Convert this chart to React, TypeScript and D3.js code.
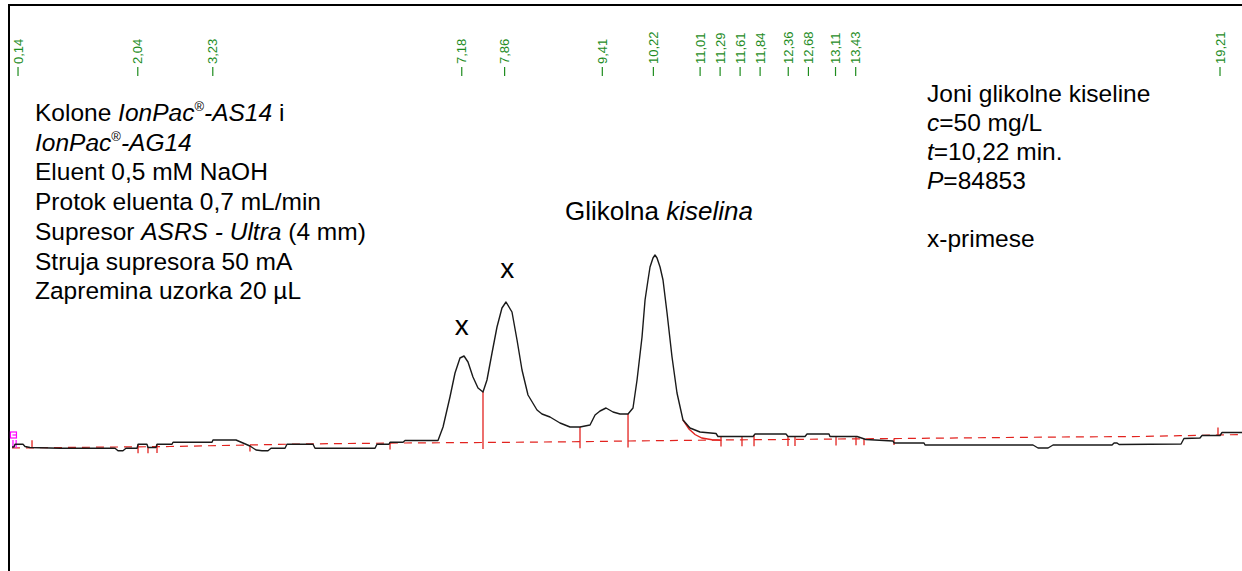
import React from "react";
import * as d3 from "d3";

// retention times printed above the peaks (min)
const peakLabels = [0.14, 2.04, 3.23, 7.18, 7.86, 9.41, 10.22, 11.01, 11.29, 11.61, 11.84, 12.36, 12.68, 13.11, 13.43, 19.21];

// detector trace
const traceTime = [
  0.044, 0.076, 0.092, 0.219, 0.251, 0.33, 0.806, 1.679, 1.726, 1.805, 1.853, 2.028, 2.044, 2.186, 2.202, 2.329,
  2.345, 2.583, 2.599, 3.218, 3.233, 3.598, 3.709, 3.82, 3.916, 4.011, 4.106, 4.154, 4.376, 4.407, 4.82, 4.852,
  5.804, 5.835, 6.026, 6.042, 6.248, 6.28, 6.803, 6.883, 6.993, 7.073, 7.152, 7.216, 7.279, 7.358, 7.438, 7.517,
  7.58, 7.66, 7.739, 7.818, 7.882, 7.977, 8.057, 8.136, 8.231, 8.374, 8.453, 8.58, 8.739, 8.898, 9.056, 9.215,
  9.295, 9.374, 9.469, 9.58, 9.691, 9.818, 9.897, 9.961, 10.04, 10.088, 10.135, 10.167, 10.214, 10.246, 10.278,
  10.326, 10.373, 10.437, 10.516, 10.595, 10.69, 10.801, 10.96, 11.214, 11.245, 11.801, 11.833, 12.324, 12.356,
  12.626, 12.658, 13.007, 13.022, 13.451, 13.593, 14.022, 14.038, 14.514, 14.53, 16.243, 16.323, 16.482, 16.561,
  17.497, 17.529, 17.577, 17.608, 18.592, 18.638, 18.892, 18.924, 19.21, 19.242, 19.559,
];
const traceSignal = [
  0.3, 0.3, 0.57, 0.57, 0.35, 0.25, 0.17, 0.17, -0.07, -0.07, 0.17, 0.17, 0.57, 0.57, 0.25, 0.25,
  0.57, 0.57, 0.77, 0.77, 1.0, 1.0, 0.7, 0.4, 0.0, -0.07, -0.07, 0.17, 0.17, 0.57, 0.57, 0.17,
  0.17, 0.57, 0.57, 0.77, 0.77, 0.95, 0.95, 2.3, 5.3, 7.7, 9.2, 9.4, 8.8, 7.3, 6.2, 5.8,
  7.0, 9.7, 12.3, 14.2, 14.8, 13.8, 11.0, 8.0, 5.5, 4.0, 3.6, 3.3, 2.7, 2.3, 2.3, 2.5,
  3.5, 3.9, 4.2, 3.8, 3.6, 3.6, 4.2, 7.0, 11.3, 15.0, 17.0, 18.3, 19.2, 19.5, 19.2,
  18.3, 17.0, 13.7, 9.3, 5.7, 3.0, 2.2, 1.8, 1.65, 1.35, 1.35, 1.6, 1.6, 1.35,
  1.35, 1.6, 1.6, 1.35, 1.35, 1.05, 0.9, 0.7, 0.7, 0.5, 0.5, 0.2, 0.2, 0.5,
  0.5, 0.7, 0.7, 0.55, 0.6, 1.15, 1.2, 1.45, 1.45, 1.75, 1.75,
];

// integration baseline (dashed)
const baseTime = [0.044, 2.551, 4.614, 6.2, 7.517, 9.056, 9.818, 11.277, 14.133, 16.672, 17.941, 18.575, 19.559];
const baseSignal = [0.2, 0.35, 0.6, 0.7, 0.75, 0.83, 0.9, 1.0, 1.15, 1.3, 1.35, 1.43, 1.55];

// tangent skim under the glycolic acid tail
const skimTime = [10.69, 10.785, 10.88, 10.99, 11.15, 11.3];
const skimSignal = [3.0, 2.1, 1.55, 1.2, 1.02, 0.98];

// peak boundary drop lines, and the two upward event marks
const dropTimes = [2.044, 2.202, 2.345, 3.82, 6.042, 7.517, 9.056, 9.818, 11.293, 11.626, 11.817, 12.356, 12.467, 13.118, 13.435, 13.562, 14.038];
const markTimes = [0.362, 19.178];

const leftNotes = [
  "Eluent 0,5 mM NaOH",
  "Protok eluenta 0,7 mL/min",
  "",
  "Struja supresora 50 mA",
  "Zapremina uzorka 20 µL",
];

const W = 1242;
const H = 571;
const FONT = "'Liberation Sans', Arial, Helvetica, sans-serif";
const GREEN = "#1e8c1e";
const RED = "#e2231f";

export default function App() {
  const x = d3.scaleLinear().domain([0, 19.56]).range([9.2, 9.2 + 63.03 * 19.56]);
  const y = d3.scaleLinear().domain([0, 20]).range([450, 250]);

  const traceAt = d3.scaleLinear().domain(traceTime).range(traceSignal).clamp(true);
  const baseAt = d3.scaleLinear().domain(baseTime).range(baseSignal).clamp(true);

  const line = d3
    .line<[number, number]>()
    .x((d) => x(d[0]))
    .y((d) => y(d[1]));

  const tracePts = traceTime.map((t, i) => [t, traceSignal[i]] as [number, number]);
  const basePts = baseTime.map((t, i) => [t, baseSignal[i]] as [number, number]);
  const skimPts = skimTime.map((t, i) => [t, skimSignal[i]] as [number, number]);

  // spread crowded labels apart
  const pos = peakLabels.map((t) => x(t));
  const minGap = 20;
  for (let it = 0; it < 60; it++) {
    for (let i = 1; i < pos.length; i++) {
      const gap = pos[i] - pos[i - 1];
      if (gap < minGap) {
        const push = (minGap - gap) / 2;
        pos[i - 1] -= push;
        pos[i] += push;
      }
    }
  }

  const fmt = (v: number) => v.toFixed(2).replace(".", ",");

  const lx = 35;
  const ly0 = 121;
  const lstep = 29.7;
  const rx = 927;

  return (
    <div style={{ position: "absolute", left: 0, top: 0 }}>
      <svg width={W} height={H} style={{ display: "block", background: "white" }} fontFamily={FONT}>
        {/* frame */}
        <line x1={8} y1={5} x2={W} y2={5} stroke="#000" strokeWidth={2} />
        <line x1={9} y1={4} x2={9} y2={H} stroke="#000" strokeWidth={2} />

        {/* retention time labels */}
        {peakLabels.map((t, i) => (
          <g key={t}>
            <line x1={pos[i]} x2={pos[i]} y1={67} y2={76} stroke={GREEN} strokeWidth={1.2} />
            <text
              transform={`translate(${pos[i] + 4.6},64) rotate(-90)`}
              fontSize={13}
              fill={GREEN}
            >
              {fmt(t)}
            </text>
          </g>
        ))}

        {/* baseline */}
        <path d={line(basePts) ?? ""} fill="none" stroke={RED} strokeWidth={1.2} strokeDasharray="8,6" />
        <path d={line(skimPts) ?? ""} fill="none" stroke={RED} strokeWidth={1.4} />

        {dropTimes.map((t) => (
          <line
            key={"d" + t}
            x1={x(t)}
            x2={x(t)}
            y1={y(Math.max(traceAt(t), baseAt(t)))}
            y2={y(baseAt(t) - 0.65)}
            stroke={RED}
            strokeWidth={1.3}
          />
        ))}
        {markTimes.map((t) => (
          <line
            key={"m" + t}
            x1={x(t)}
            x2={x(t)}
            y1={y(baseAt(t))}
            y2={y(baseAt(t) + 0.75)}
            stroke={RED}
            strokeWidth={1.3}
          />
        ))}

        {/* injection marker */}
        <g stroke="#ff00ff" strokeWidth={1.2} fill="none">
          <rect x={x(0.02)} y={y(1.8)} width={6} height={6} />
          <line x1={x(0.02) + 2} x2={x(0.02) + 6} y1={y(1.5)} y2={y(1.5)} />
          <line x1={x(0.06)} x2={x(0.06)} y1={y(1.0)} y2={y(0.2)} />
          <line x1={x(0.11)} x2={x(0.11)} y1={y(1.0)} y2={y(0.2)} />
        </g>

        {/* trace */}
        <path d={line(tracePts) ?? ""} fill="none" stroke="#1a1a1a" strokeWidth={1.4} strokeLinejoin="round" />

        {/* annotations */}
        <g fontSize={24.5} fill="#000">
          <text x={lx} y={ly0}>
            Kolone <tspan fontStyle="italic">IonPac</tspan>
            <tspan dy={-10} fontSize={13}>®</tspan>
            <tspan dy={10} fontStyle="italic">-AS14</tspan> i
          </text>
          <text x={lx} y={ly0 + lstep}>
            <tspan fontStyle="italic">IonPac</tspan>
            <tspan dy={-10} fontSize={13}>®</tspan>
            <tspan dy={10} fontStyle="italic">-AG14</tspan>
          </text>
          <text x={lx} y={ly0 + lstep * 2}>{leftNotes[0]}</text>
          <text x={lx} y={ly0 + lstep * 3}>{leftNotes[1]}</text>
          <text x={lx} y={ly0 + lstep * 4}>
            Supresor <tspan fontStyle="italic">ASRS - Ultra</tspan> (4 mm)
          </text>
          <text x={lx} y={ly0 + lstep * 5}>{leftNotes[3]}</text>
          <text x={lx} y={ly0 + lstep * 6}>{leftNotes[4]}</text>

          <text x={rx} y={102}>Joni glikolne kiseline</text>
          <text x={rx} y={131}>
            <tspan fontStyle="italic">c</tspan>=50 mg/L
          </text>
          <text x={rx} y={160}>
            <tspan fontStyle="italic">t</tspan>=10,22 min.
          </text>
          <text x={rx} y={189}>
            <tspan fontStyle="italic">P</tspan>=84853
          </text>
          <text x={rx} y={247}>x-primese</text>
        </g>

        <text x={565} y={220} fontSize={26}>
          Glikolna <tspan fontStyle="italic">kiselina</tspan>
        </text>
        <text x={x(7.18)} y={335} fontSize={28} textAnchor="middle">x</text>
        <text x={x(7.9)} y={278} fontSize={28} textAnchor="middle">x</text>
      </svg>
    </div>
  );
}
